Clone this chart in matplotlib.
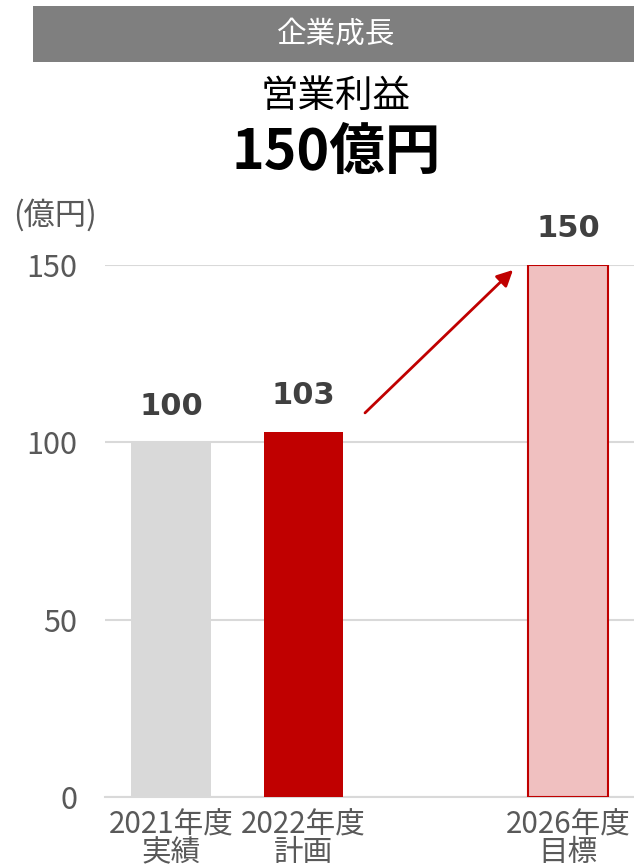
import matplotlib
matplotlib.use("Agg")
import matplotlib.pyplot as plt
from matplotlib.patches import Rectangle

plt.rcParams['font.family'] = ['Noto Sans CJK JP', 'DejaVu Sans']

# data
categories = ["2021年度\n実績", "2022年度\n計画", "2026年度\n目標"]
positions = [0, 1, 3]
values = [100, 103, 150]
yticks = [0, 50, 100, 150]

fill_colors = ["#D9D9D9", "#C00000", "#F0C0C0"]
edge_colors = ["none", "none", "#C00000"]

W, H = 634, 868
fig = plt.figure(figsize=(W / 100, H / 100), dpi=100)

# header bar
fig.patches.append(Rectangle((33 / W, 1 - 62 / H), (W - 33) / W, 56 / H,
                             transform=fig.transFigure, facecolor="#7F7F7F",
                             edgecolor="none", zorder=0))
fig.text(336 / W, 1 - 34 / H, "企業成長", color="white", fontsize=21.3,
         ha="center", va="center")
fig.text(336 / W, 1 - 96 / H, "営業利益", color="black", fontsize=27,
         ha="center", va="center")
fig.text(336 / W, 1 - 153 / H, "150億円", color="black", fontsize=40,
         fontweight="bold", ha="center", va="center")
fig.text(13 / W, 1 - 215 / H, "(億円)", color="#595959", fontsize=22.5,
         ha="left", va="center")

ax = fig.add_axes([105 / W, 71 / H, (W - 105) / W, (797 - 265) / H])
ax.bar(positions, values, width=0.6, color=fill_colors,
       edgecolor=edge_colors, linewidth=1.5, zorder=3)

for x, v in zip(positions, values):
    ax.annotate(str(v), (x, v), xytext=(0, 26), textcoords="offset points",
                ha="center", va="center", fontsize=22, fontweight="bold",
                color="#404040", family="DejaVu Sans", annotation_clip=False)

# growth arrow
ax.annotate("", xy=(2.585, 148.6), xytext=(1.466, 108.3),
            arrowprops=dict(arrowstyle="-|>", color="#C00000", lw=2,
                            mutation_scale=24, shrinkA=0, shrinkB=0),
            zorder=4)

ax.set_xlim(-0.5, 3.5)
ax.set_ylim(0, 150)
ax.set_yticks(yticks)
ax.set_xticks(positions)
ax.set_xticklabels(categories, linespacing=0.85)
ax.tick_params(axis="y", length=0, pad=20, labelsize=22, labelcolor="#595959")
ax.tick_params(axis="x", length=0, pad=9, labelsize=21.3, labelcolor="#595959")
ax.grid(axis="y", color="#D9D9D9", linewidth=1.5, zorder=0)
ax.set_axisbelow(True)
for s in ["top", "right", "left"]:
    ax.spines[s].set_visible(False)
ax.spines["bottom"].set_color("#D9D9D9")
ax.spines["bottom"].set_linewidth(1.5)

fig.savefig("out.png", dpi=100)
